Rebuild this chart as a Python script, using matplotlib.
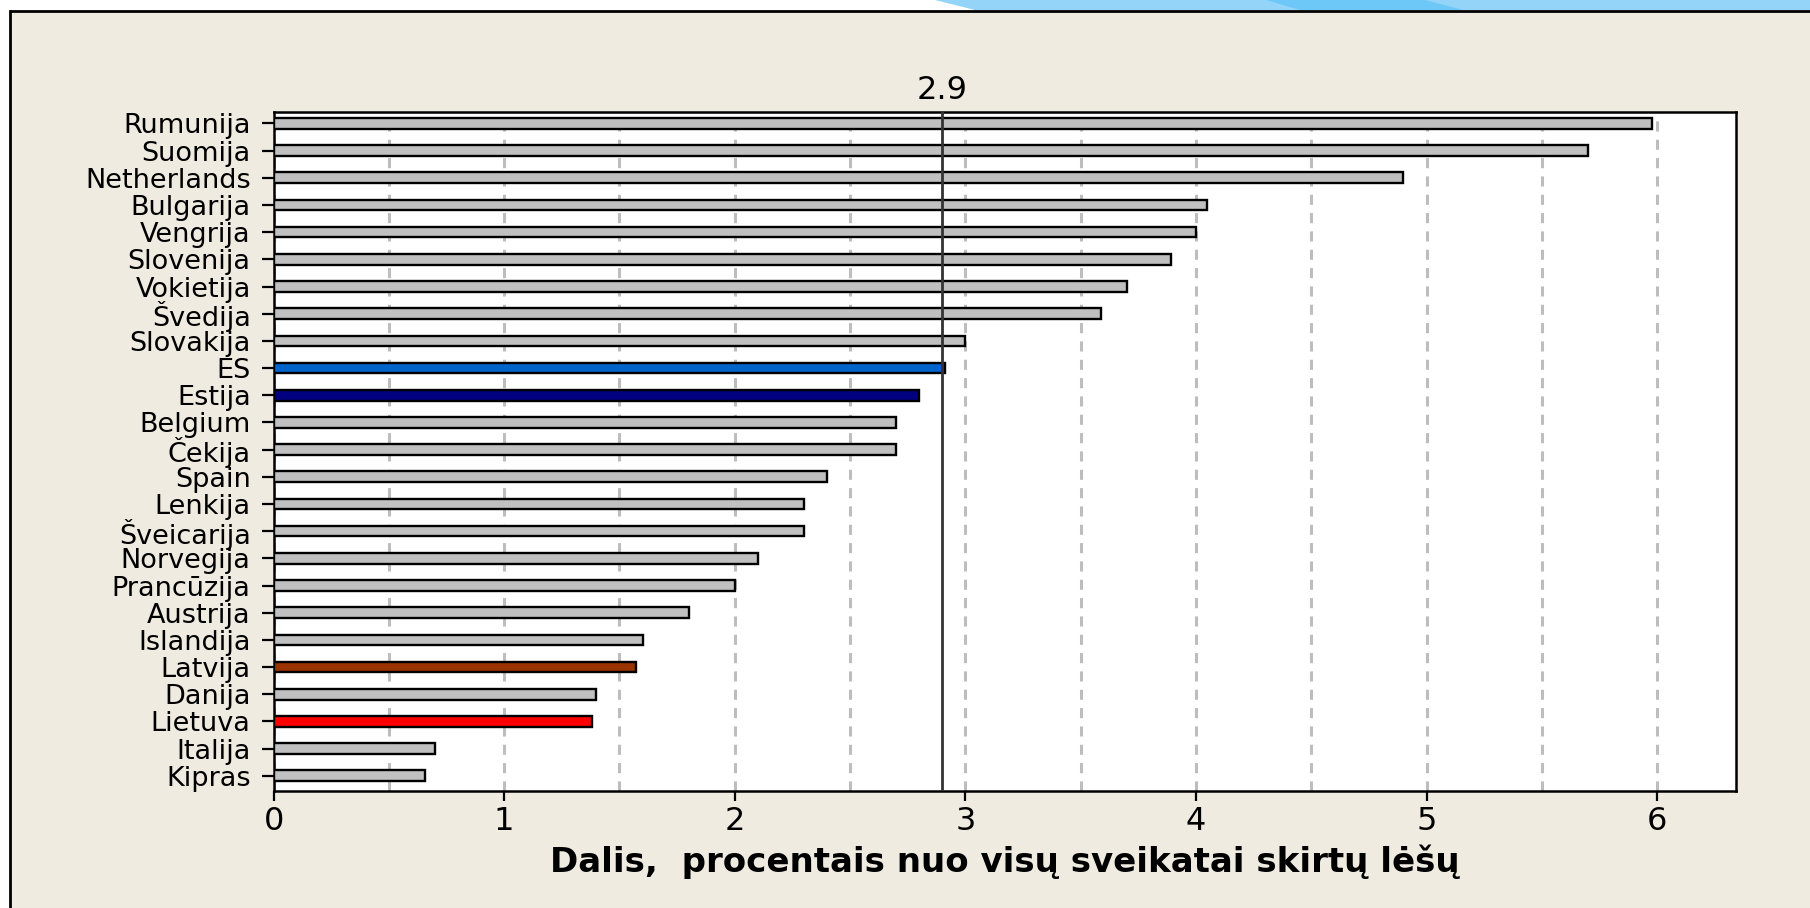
import matplotlib.pyplot as plt
import numpy as np
from matplotlib.patches import Rectangle, Polygon
from matplotlib.ticker import MultipleLocator
import matplotlib.transforms as mtransforms

countries = ["Rumunija", "Suomija", "Netherlands", "Bulgarija", "Vengrija",
             "Slovenija", "Vokietija", "Švedija", "Slovakija", "ES", "Estija",
             "Belgium", "Čekija", "Spain", "Lenkija", "Šveicarija", "Norvegija",
             "Prancūzija", "Austrija", "Islandija", "Latvija", "Danija",
             "Lietuva", "Italija", "Kipras"]
values = [5.98, 5.70, 4.90, 4.05, 4.00, 3.89, 3.70, 3.59, 3.00, 2.91, 2.80,
          2.70, 2.70, 2.40, 2.30, 2.30, 2.10, 2.00, 1.80, 1.60, 1.57, 1.40,
          1.38, 0.70, 0.655]
highlight = {"ES": "#0066CC", "Estija": "#000080", "Latvija": "#993300",
             "Lietuva": "#FF0000"}
eu_average = 2.9
xticks = [0, 1, 2, 3, 4, 5, 6]
xlabel = "Dalis,  procentais nuo visų sveikatai skirtų lėšų"

W, H = 1810, 908
fig = plt.figure(figsize=(W / 100, H / 100), dpi=100)
fig.patch.set_facecolor("white")

# slide background with black frame on left/top
fig.patches.append(Rectangle((9.5 / W, -0.05), 1.2, (H - 11) / H + 0.05,
                             transform=fig.transFigure, facecolor="#EFEBE1",
                             edgecolor="black", linewidth=2.0, zorder=-10))
# light blue decoration along the top edge
fig.patches.append(Polygon([(935 / W, 1), (975 / W, (H - 10) / H),
                            (1, (H - 10) / H), (1, 1)],
                           transform=fig.transFigure, facecolor="#93D4F8",
                           edgecolor="none", zorder=-10))
fig.patches.append(Polygon([(1266 / W, 1), (1425 / W, 1), (1463 / W, (H - 10) / H),
                            (1300 / W, (H - 10) / H)],
                           transform=fig.transFigure, facecolor="#6DC8F8",
                           edgecolor="none", zorder=-10))

ax = fig.add_axes([273.6 / W, 1 - 791 / H, (1735.5 - 273.6) / W, (791 - 112) / H])
ax.set_zorder(5)
ax.set_facecolor("white")

n = len(countries)
y = np.arange(n)[::-1]
colors = [highlight.get(c, "#C0C0C0") for c in countries]
ax.barh(y, values, height=0.39, color=colors, edgecolor="black",
        linewidth=1.7, zorder=3)

ax.axvline(eu_average, color="#333333", linewidth=2.0, zorder=4)
trans = mtransforms.blended_transform_factory(ax.transData, ax.transAxes)
ax.annotate(f"{eu_average}", xy=(eu_average, 1.0), xycoords=trans,
            xytext=(0, 4), textcoords="offset points", ha="center",
            va="bottom", fontsize=23, color="black")

ax.set_xlim(0, 6.34)
ax.set_ylim(-0.56, n - 1 + 0.42)
ax.set_xticks(xticks)
ax.set_xticklabels([str(t) for t in xticks], fontsize=23)
ax.xaxis.set_minor_locator(MultipleLocator(0.5))
ax.set_yticks(y)
ax.set_yticklabels(countries, fontsize=19.5)

ax.grid(which="both", axis="x", color="#BDBDBD", linewidth=2.2,
        linestyle=(0, (3.3, 2.7)), zorder=1)
ax.set_axisbelow(True)

ax.tick_params(axis="y", direction="out", length=8.5, width=1.6, pad=8)
ax.tick_params(axis="x", which="major", direction="out", length=7, width=1.6, pad=4)
ax.tick_params(axis="x", which="minor", length=0)
for s in ax.spines.values():
    s.set_linewidth(1.8)
    s.set_color("black")

ax.set_xlabel(xlabel, fontsize=24.5, fontweight="bold", labelpad=5)

fig.savefig("out.png", dpi=100, facecolor=fig.get_facecolor())
